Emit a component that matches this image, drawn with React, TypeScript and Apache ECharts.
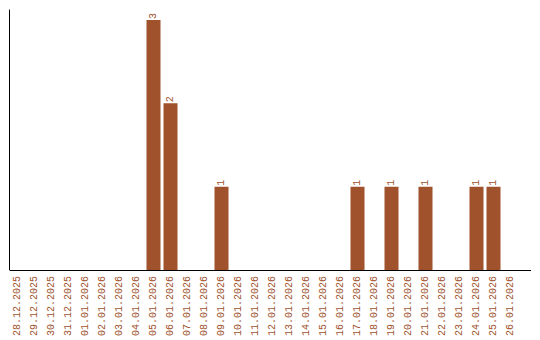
import React, { useEffect, useRef } from "react";
import * as echarts from "echarts";

const categories = [
  "28.12.2025", "29.12.2025", "30.12.2025", "31.12.2025",
  "01.01.2026", "02.01.2026", "03.01.2026", "04.01.2026", "05.01.2026", "06.01.2026",
  "07.01.2026", "08.01.2026", "09.01.2026", "10.01.2026", "11.01.2026", "12.01.2026",
  "13.01.2026", "14.01.2026", "15.01.2026", "16.01.2026", "17.01.2026", "18.01.2026",
  "19.01.2026", "20.01.2026", "21.01.2026", "22.01.2026", "23.01.2026", "24.01.2026",
  "25.01.2026", "26.01.2026",
];
const values = [
  0, 0, 0, 0,
  0, 0, 0, 0, 3, 2,
  0, 0, 1, 0, 0, 0,
  0, 0, 0, 0, 1, 0,
  1, 0, 1, 0, 0, 1,
  1, 0,
];

const COLOR = "#a0522d";
const FONT = "Liberation Mono";

export default function App() {
  const ref = useRef<HTMLDivElement>(null);
  useEffect(() => {
    const chart = echarts.init(ref.current!, null, { renderer: "svg" });
    chart.setOption({
      animation: false,
      grid: { left: 9, top: 10, width: 510, height: 260, containLabel: false },
      xAxis: {
        type: "category",
        data: categories,
        axisLine: { show: false },
        axisTick: { show: false },
        axisLabel: {
          rotate: 90,
          interval: 0,
          color: COLOR,
          fontFamily: FONT,
          fontSize: 10,
          margin: 6,
        },
      },
      yAxis: {
        type: "value",
        min: 0,
        max: (v: any) => v.max * 1.04,
        axisLine: { show: true, lineStyle: { color: "#000", width: 1 } },
        axisTick: { show: false },
        axisLabel: { show: false },
        splitLine: { show: false },
      },
      graphic: [
        {
          type: "line",
          shape: { x1: 10, y1: 270.5, x2: 531, y2: 270.5 },
          style: { stroke: "#000", lineWidth: 1 },
          z: 10,
        },
      ],
      series: [
        {
          type: "bar",
          data: values.map((v) => (v === 0 ? null : v)),
          barWidth: 14,
          itemStyle: { color: COLOR },
          label: {
            show: true,
            position: "top",
            rotate: 90,
            align: "left",
            verticalAlign: "middle",
            distance: 1,
            color: COLOR,
            fontFamily: FONT,
            fontSize: 10,
          },
        },
      ],
    });
    return () => chart.dispose();
  }, []);
  return <div ref={ref} style={{ width: 540, height: 340, position: "absolute", left: 0, top: 0 }} />;
}
